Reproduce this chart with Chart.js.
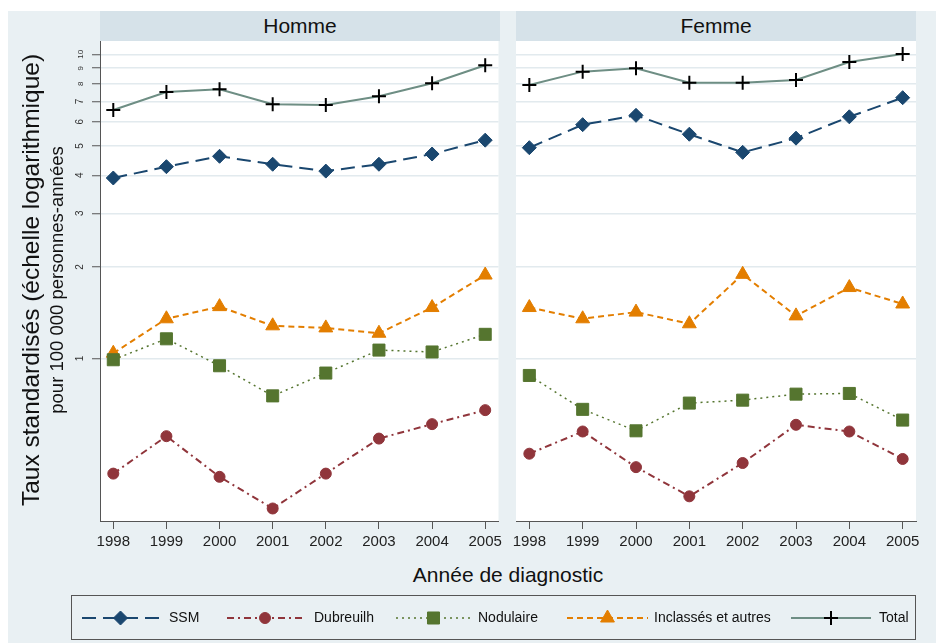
<!DOCTYPE html>
<html>
<head>
<meta charset="utf-8">
<script src="https://cdn.jsdelivr.net/npm/chart.js"></script>
<style>
  body { margin: 0; background: #fff; font-family: "Liberation Sans", Arial, sans-serif; }
  #fond { position: absolute; left: 8px; top: 11px; width: 928px; height: 632px; background: #e9f0f3; }
  .bandeau { position: absolute; top: 11px; width: 400px; height: 30px; background: #d6e2e9;
             font-size: 21px; color: #111; text-align: center; line-height: 30px; }
  .axe-titre { position: absolute; white-space: nowrap; color: #111; transform: translate(-50%, -50%) rotate(-90deg); }
  canvas { position: absolute; }
  #legende { position: absolute; left: 71px; top: 595px; width: 845px; height: 45px;
             border: 1px solid #555; box-sizing: border-box; background: #e9f0f3; }
  #legende span { position: absolute; top: 0; line-height: 43px; font-size: 14px; color: #111; white-space: nowrap; }
</style>
</head>
<body>
<div id="fond"></div>
<div class="bandeau" style="left:100px">Homme</div>
<div class="bandeau" style="left:516px">Femme</div>
<canvas id="chartHomme" width="500" height="540" style="left:8px; top:21px"></canvas>
<canvas id="chartFemme" width="432" height="540" style="left:496px; top:21px"></canvas>
<div class="axe-titre" style="left:31px; top:280px; font-size:24.5px">Taux standardisés (échelle logarithmique)</div>
<div class="axe-titre" style="left:57px; top:280px; font-size:18.5px">pour 100 000 personnes-années</div>
<div class="axe-titre" style="left:508px; top:575px; font-size:21px; transform: translate(-50%, -50%)">Année de diagnostic</div>
<div id="legende">
  <canvas id="legendeCanvas" width="843" height="43" style="left:0; top:0"></canvas>
</div>
<script>
// Années et graduations
const years = [1998, 1999, 2000, 2001, 2002, 2003, 2004, 2005];
const yTicks = [1, 2, 3, 4, 5, 6, 7, 8, 9, 10];
const seriesNames = ['SSM', 'Dubreuilh', 'Nodulaire', 'Inclassés et autres', 'Total'];

// Homme
const hommeSSM        = [3.92, 4.27, 4.62, 4.35, 4.13, 4.35, 4.70, 5.22];
const hommeDubreuilh  = [0.418, 0.555, 0.408, 0.321, 0.418, 0.545, 0.608, 0.676];
const hommeNodulaire  = [0.99, 1.16, 0.946, 0.753, 0.895, 1.065, 1.05, 1.20];
const hommeInclasses  = [1.04, 1.35, 1.48, 1.28, 1.26, 1.21, 1.47, 1.88];
const hommeTotal      = [6.56, 7.52, 7.67, 6.85, 6.81, 7.28, 8.03, 9.20];

// Femme
const femmeSSM        = [4.93, 5.87, 6.30, 5.46, 4.76, 5.30, 6.23, 7.20];
const femmeDubreuilh  = [0.486, 0.575, 0.439, 0.352, 0.453, 0.605, 0.575, 0.467];
const femmeNodulaire  = [0.879, 0.68, 0.578, 0.713, 0.729, 0.763, 0.767, 0.627];
const femmeInclasses  = [1.47, 1.35, 1.42, 1.30, 1.89, 1.38, 1.71, 1.51];
const femmeTotal      = [7.93, 8.77, 8.99, 8.07, 8.07, 8.23, 9.43, 10.02];

// Styles des séries (couleurs Stata s2color)
const styles = [
    { color: '#1a476f', marker: 'rectRot',  radius: 7,   dash: [14, 7],       width: 2 },
    { color: '#90353b', marker: 'circle',   radius: 5.5, dash: [7, 4, 2, 4],  width: 2 },
    { color: '#55752f', marker: 'rect',     radius: 8.5, dash: [2, 4],        width: 1.5 },
    { color: '#e37e00', marker: 'triangle', radius: 8,   dash: [6, 4],        width: 2 },
    { color: '#6e8e84', marker: 'cross',    radius: 7,   dash: [],            width: 2, markerColor: '#000' }
];

function makeDatasets(series) {
    return series.map((vals, i) => {
        const s = styles[i];
        return {
            label: seriesNames[i],
            data: years.map((yr, k) => ({ x: yr, y: vals[k] })),
            borderColor: s.color,
            borderWidth: s.width,
            borderDash: s.dash,
            pointStyle: s.marker,
            pointRadius: s.radius,
            pointBackgroundColor: s.markerColor || s.color,
            pointBorderColor: s.markerColor || s.color,
            pointBorderWidth: s.marker === 'cross' ? 2 : 1,
            tension: 0
        };
    });
}

// Fond blanc de la zone de tracé
const fondBlanc = {
    id: 'fondBlanc',
    beforeDraw(chart) {
        const a = chart.chartArea;
        chart.ctx.save();
        chart.ctx.fillStyle = '#ffffff';
        chart.ctx.fillRect(a.left, a.top, a.right - a.left, a.bottom - a.top);
        chart.ctx.restore();
    }
};

function makeOptions(showY) {
    return {
        responsive: false,
        animation: false,
        events: [],
        layout: { padding: showY ? { top: 20, right: 8, left: 0, bottom: 0 } : { top: 20, right: 12, left: 20, bottom: 0 } },
        plugins: { legend: { display: false }, tooltip: { enabled: false } },
        scales: {
            x: {
                type: 'linear',
                min: 1997.75,
                max: 2005.25,
                afterBuildTicks: scale => { scale.ticks = years.map(v => ({ value: v })); },
                afterFit: scale => { scale.height = 40; },
                grid: { drawOnChartArea: false, drawTicks: true, tickLength: 8, tickColor: '#555', tickWidth: 1 },
                border: { color: '#555', width: 1 },
                ticks: {
                    callback: v => String(v),
                    font: { family: 'Liberation Sans', size: 15 },
                    color: '#222',
                    padding: 4,
                    maxRotation: 0,
                    autoSkip: false
                }
            },
            y: {
                type: 'logarithmic',
                min: 0.292,
                max: 11.06,
                afterBuildTicks: scale => { scale.ticks = yTicks.map(v => ({ value: v })); },
                afterFit: scale => { scale.width = showY ? 92 : 0; },
                grid: { color: '#e2eaee', lineWidth: 1.5, drawTicks: showY, tickLength: 8, tickColor: '#555', tickWidth: 1 },
                border: { display: showY, color: '#555', width: 1 },
                ticks: {
                    display: showY,
                    callback: v => String(v),
                    minRotation: 90,
                    maxRotation: 90,
                    crossAlign: 'center',
                    padding: 7,
                    color: '#333',
                    autoSkip: false,
                    font: ctx => ({ family: 'Liberation Sans', size: ctx.tick && ctx.tick.value >= 8 ? 8 : 10 })
                }
            }
        }
    };
}

new Chart(document.getElementById('chartHomme'), {
    type: 'line',
    data: { datasets: makeDatasets([hommeSSM, hommeDubreuilh, hommeNodulaire, hommeInclasses, hommeTotal]) },
    options: makeOptions(true),
    plugins: [fondBlanc]
});

new Chart(document.getElementById('chartFemme'), {
    type: 'line',
    data: { datasets: makeDatasets([femmeSSM, femmeDubreuilh, femmeNodulaire, femmeInclasses, femmeTotal]) },
    options: makeOptions(false),
    plugins: [fondBlanc]
});

// Légende : échantillon de ligne + marqueur, puis texte
const legendeItems = [
    { x1: 10,  x2: 87,  text: 97 },
    { x1: 155, x2: 231, text: 242 },
    { x1: 324, x2: 399, text: 406 },
    { x1: 495, x2: 576, text: 582 },
    { x1: 719, x2: 799, text: 807 }
];
const lc = document.getElementById('legendeCanvas').getContext('2d');
const legende = document.getElementById('legende');
legendeItems.forEach((it, i) => {
    const s = styles[i];
    const y = 22;
    lc.save();
    lc.strokeStyle = s.color;
    lc.lineWidth = s.width;
    lc.setLineDash(s.dash);
    lc.beginPath();
    lc.moveTo(it.x1, y);
    lc.lineTo(it.x2, y);
    lc.stroke();
    lc.restore();
    lc.save();
    lc.fillStyle = s.markerColor || s.color;
    lc.strokeStyle = s.markerColor || s.color;
    lc.lineWidth = s.marker === 'cross' ? 2 : 1;
    Chart.helpers.drawPoint(lc, { pointStyle: s.marker, radius: s.radius, rotation: 0, borderWidth: lc.lineWidth }, (it.x1 + it.x2) / 2, y);
    lc.restore();
    const span = document.createElement('span');
    span.style.left = it.text + 'px';
    span.textContent = seriesNames[i];
    legende.appendChild(span);
});
</script>
</body>
</html>
